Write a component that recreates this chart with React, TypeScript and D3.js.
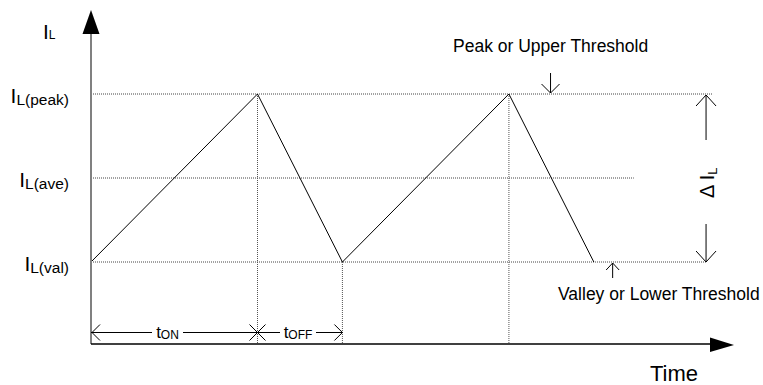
import React from "react";
import * as d3 from "d3";

// ---- data ----
const levelKeys = ["val", "ave", "peak"];
const levelValues = [0, 0.5, 1];
const guideEnds = [3.7, 3.26, 3.736]; // time units where each dotted level line stops
const waveTimes = [0, 1, 1.51, 2.51, 3.02];
const waveCurrents = [0, 1, 0, 1, 0];
const phaseLabels = ["ON", "OFF"];
const annotations = ["Peak or Upper Threshold", "Valley or Lower Threshold"];
const axisTitles = ["I", "L", "Time"];

const W = 763;
const H = 385;
const FONT = "'Liberation Sans', Arial, Helvetica, sans-serif";

export default function App() {
  const x = d3.scaleLinear().domain([0, 1]).range([91, 257.5]);
  const y = d3.scaleLinear().domain([0, 1]).range([262, 94]);

  const axisY = 344;
  const x0 = x(0);
  const xEnd = 734;

  const line = d3
    .line<number>()
    .x((_, i) => x(waveTimes[i]))
    .y((d) => y(d));

  const chevron = (tx: number, ty: number, dir: "up" | "down" | "left" | "right", w: number, h: number) => {
    let pts: [number, number][] = [];
    if (dir === "up") pts = [[tx - w, ty + h], [tx, ty], [tx + w, ty + h]];
    if (dir === "down") pts = [[tx - w, ty - h], [tx, ty], [tx + w, ty - h]];
    if (dir === "left") pts = [[tx + w, ty - h], [tx, ty], [tx + w, ty + h]];
    if (dir === "right") pts = [[tx - w, ty - h], [tx, ty], [tx - w, ty + h]];
    return (
      <polyline
        points={pts.map((p) => p.join(",")).join(" ")}
        fill="none"
        stroke="#000"
        strokeWidth={1}
      />
    );
  };

  // Time marks for tON / tOFF
  const tOnEnd = x(waveTimes[1]);
  const tOffEnd = x(waveTimes[2]);
  const dimY = 332.5;

  const peakArrowX = x(2.76);
  const valleyArrowX = x(3.133);
  const deltaX = x(3.694);

  const labelText = (key: string) => `L(${key})`;

  return (
    <svg
      width={W}
      height={H}
      style={{ position: "absolute", left: 0, top: 0, background: "#fff" }}
      fontFamily={FONT}
    >
      <rect width={W} height={H} fill="#fff" />

      {/* dotted level guides */}
      {levelValues.map((v, i) => (
        <line
          key={"g" + i}
          x1={x0}
          x2={x(guideEnds[i])}
          y1={y(v)}
          y2={y(v)}
          stroke="#444"
          strokeWidth={1}
          strokeDasharray="1 1"
        />
      ))}

      {/* dotted vertical guides at switching instants */}
      {waveTimes.slice(1, 4).map((t, i) => (
        <line
          key={"v" + i}
          x1={x(t)}
          x2={x(t)}
          y1={y(waveCurrents[i + 1])}
          y2={axisY}
          stroke="#555"
          strokeWidth={1}
          strokeDasharray="1 1"
        />
      ))}

      {/* triangular inductor current */}
      <path d={line(waveCurrents) || ""} fill="none" stroke="#000" strokeWidth={1} />

      {/* Y axis */}
      <line x1={x0} x2={x0} y1={32} y2={axisY} stroke="#808080" strokeWidth={2} />
      <polygon points={`${x0},10 ${x0 - 8.5},34 ${x0 + 8.5},34`} fill="#000" />

      {/* X axis */}
      <line x1={x0} x2={711} y1={axisY} y2={axisY} stroke="#000" strokeWidth={1.5} />
      <polygon points={`${xEnd},${axisY + 1} 710,${axisY - 6.5} 710,${axisY + 8}`} fill="#000" />

      {/* level labels */}
      {levelValues.map((v, i) => (
        <text key={"l" + i} x={69} y={y(v) + 9} textAnchor="end" fill="#000">
          <tspan fontSize={21}>I</tspan>
          <tspan fontSize={15.5} dy={2}>
            {labelText(levelKeys[i])}
          </tspan>
        </text>
      ))}

      {/* Y axis title */}
      <text x={43} y={39} fill="#000">
        <tspan fontSize={21}>{axisTitles[0]}</tspan>
        <tspan fontSize={12}>{axisTitles[1]}</tspan>
      </text>

      {/* X axis title */}
      <text x={650} y={381} fontSize={22} fill="#000">
        {axisTitles[2]}
      </text>

      {/* tON dimension */}
      <line x1={x0} x2={152} y1={dimY} y2={dimY} stroke="#000" strokeWidth={1} />
      <line x1={183} x2={tOnEnd} y1={dimY} y2={dimY} stroke="#000" strokeWidth={1} />
      {chevron(x0 + 1, dimY, "left", 8, 8)}
      {chevron(tOnEnd, dimY, "right", 8, 8)}
      <text x={(152 + 183) / 2} y={338} textAnchor="middle" fill="#000">
        <tspan fontSize={17}>t</tspan>
        <tspan fontSize={12} dy={1}>
          {phaseLabels[0]}
        </tspan>
      </text>

      {/* tOFF dimension */}
      <line x1={tOnEnd} x2={280} y1={dimY} y2={dimY} stroke="#000" strokeWidth={1} />
      <line x1={316} x2={tOffEnd} y1={dimY} y2={dimY} stroke="#000" strokeWidth={1} />
      {chevron(tOnEnd, dimY, "left", 8, 8)}
      {chevron(tOffEnd, dimY, "right", 8, 8)}
      <text x={(280 + 316) / 2} y={338} textAnchor="middle" fill="#000">
        <tspan fontSize={17}>t</tspan>
        <tspan fontSize={12} dy={1}>
          {phaseLabels[1]}
        </tspan>
      </text>

      {/* Peak annotation */}
      <text x={453} y={52} fontSize={17.5} fill="#000">
        {annotations[0]}
      </text>
      <line x1={peakArrowX} x2={peakArrowX} y1={73} y2={y(1) - 1} stroke="#000" strokeWidth={1} />
      {chevron(peakArrowX, y(1) - 1, "down", 9, 9)}

      {/* Valley annotation */}
      <line x1={valleyArrowX} x2={valleyArrowX} y1={278} y2={y(0) + 1} stroke="#000" strokeWidth={1} />
      {chevron(valleyArrowX, y(0) + 1, "up", 6.5, 7)}
      <text x={558} y={300} fontSize={17.5} fill="#000">
        {annotations[1]}
      </text>

      {/* Delta IL */}
      <line x1={deltaX} x2={deltaX} y1={y(1) + 1} y2={140} stroke="#000" strokeWidth={1} />
      {chevron(deltaX, y(1) + 1, "up", 10, 11)}
      <line x1={deltaX} x2={deltaX} y1={224} y2={y(0)} stroke="#000" strokeWidth={1} />
      {chevron(deltaX, y(0), "down", 10, 11)}
      <text x={714} y={198} transform="rotate(-90, 714, 198)" fill="#000">
        <tspan fontSize={20}>{"\u0394 I"}</tspan>
        <tspan fontSize={13} dy={3}>
          L
        </tspan>
      </text>
    </svg>
  );
}
